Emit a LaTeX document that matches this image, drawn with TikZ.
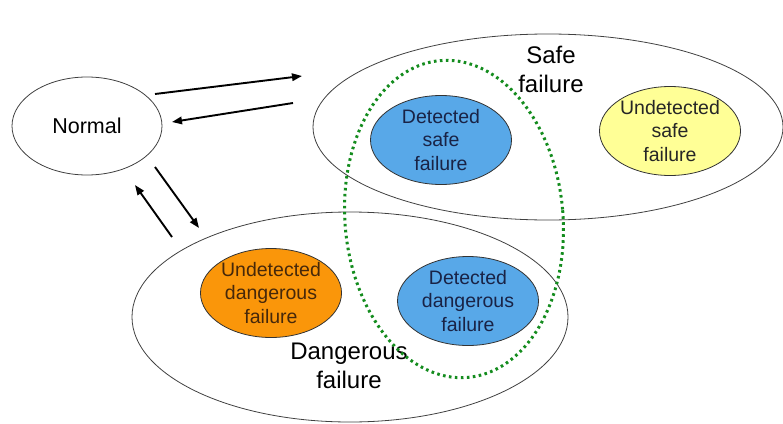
\documentclass[tikz,border=0pt]{standalone}
\usepackage{fontspec}
\setmainfont{Liberation Sans}
\usetikzlibrary{arrows.meta,shapes.geometric}
\definecolor{sky}{RGB}{88,168,232}
\definecolor{lemon}{RGB}{255,255,150}
\definecolor{amber}{RGB}{250,150,10}
\definecolor{leaf}{RGB}{20,140,30}
\definecolor{ink}{RGB}{25,35,70}
\definecolor{umber}{RGB}{70,40,10}
\tikzset{
  arr/.style={-{Triangle[length=10pt,width=7.5pt]},line width=1.9pt},
  set/.style={ellipse,draw=black!75,line width=0.8pt,inner sep=0pt},
  sub/.style={ellipse,draw=black!80,line width=0.8pt,inner sep=0pt,minimum width=141pt,minimum height=89pt,align=center,font=\fontsize{19.5}{23.5}\selectfont},
  lab/.style={align=center,font=\fontsize{24}{29}\selectfont},
  grp/.style={ellipse,draw=leaf,line width=3pt,dash pattern=on 2.6pt off 3.4pt,inner sep=0pt}
}
\begin{document}
\begin{tikzpicture}[x=1pt,y=-1pt]
  \useasboundingbox (0,0) rectangle (783,423);
  \node[set,minimum width=150pt,minimum height=98pt,font=\fontsize{21.5}{26}\selectfont] (N) at (87,126) {Normal};
  \node[set,minimum width=470pt,minimum height=186pt] (S) at (548,127) {};
  \node[set,minimum width=436pt,minimum height=210pt] (D) at (350,317) {};
  \node[lab] (SL) at (551,69) {Safe\\failure};
  \node[lab] (DL) at (349,366) {Dangerous\\failure};
  \node[sub,fill=sky,text=ink] (DS) at (441,140) {Detected\\safe\\failure};
  \node[sub,fill=lemon,text=black!85] (US) at (670,131) {Undetected\\safe\\failure};
  \node[sub,fill=amber,text=umber] (UD) at (271,293) {Undetected\\dangerous\\failure};
  \node[sub,fill=sky,text=ink] (DD) at (468,301) {Detected\\dangerous\\failure};
  \node[grp,minimum width=218pt,minimum height=318pt,rotate=5] (G) at (454,219) {};
  \coordinate (ns) at (155,94);
  \coordinate (sn) at (293,103);
  \coordinate (nd) at (155,167);
  \coordinate (dn) at (172,237);
  \draw[arr] (ns) -- (302,76) coordinate (s1);
  \draw[arr] (sn) -- (172,122) coordinate (n1);
  \draw[arr] (nd) -- (199,228) coordinate (d1);
  \draw[arr] (dn) -- (135,185) coordinate (n2);
\end{tikzpicture}
\end{document}
